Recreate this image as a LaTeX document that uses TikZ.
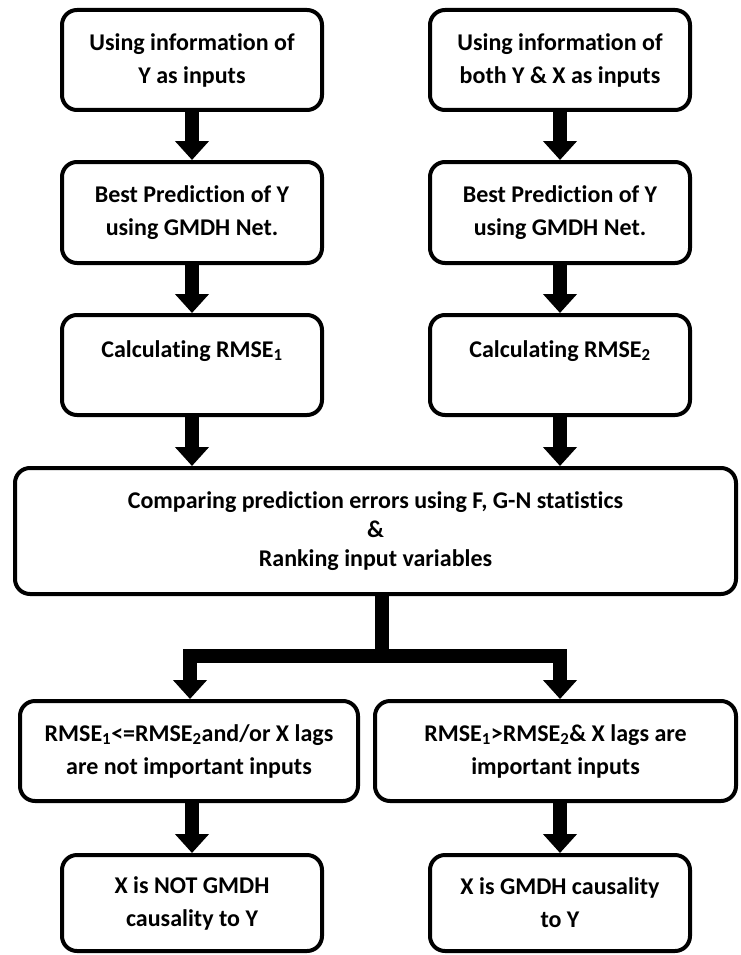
\documentclass[tikz,border=0pt]{standalone}
\usepackage{fontspec}
\setmainfont{Carlito}[Ligatures=NoCommon]
\usepackage{tikz}
\usetikzlibrary{arrows.meta,positioning}

\tikzset{
    stepbox/.style={
        draw,
        line width=4pt,
        rounded corners=15pt,
        fill=white,
        align=center,
        inner sep=4pt,
        font=\fontsize{24}{33}\selectfont\bfseries
    },
    flowarrow/.style={
        line width=14pt,
        -{Triangle[width=33pt,length=19pt]}
    },
    flowbar/.style={
        line width=14pt
    }
}

\begin{document}
\begin{tikzpicture}[x=1pt,y=-1pt]
                \useasboundingbox (0,0) rectangle (740,955);

                \node[stepbox, minimum width=260pt, minimum height=100pt]
                    (inY) at (192,60) {Using information of\\Y as inputs};
                \node[stepbox, minimum width=260pt, minimum height=101pt]
                    (predY) at (192,212.5) {Best Prediction of Y\\using GMDH Net.};
                \node[stepbox, minimum width=260pt, minimum height=100pt,
                    text height=36pt, text depth=52pt, inner ysep=6pt]
                    (rmseA) at (192,365) {Calculating RMSE\textsubscript{1}};

                \node[stepbox, minimum width=260pt, minimum height=100pt]
                    (inYX) at (560,60) {Using information of\\both Y \& X as inputs};
                \node[stepbox, minimum width=260pt, minimum height=101pt]
                    (predYX) at (560,212.5) {Best Prediction of Y\\using GMDH Net.};
                \node[stepbox, minimum width=260pt, minimum height=100pt,
                    text height=36pt, text depth=52pt, inner ysep=6pt]
                    (rmseB) at (560,365) {Calculating RMSE\textsubscript{2}};

                \node[stepbox, minimum width=721pt, minimum height=126pt,
                    font=\fontsize{24}{29}\selectfont\bfseries]
                    (compare) at (375.5,531) {Comparing prediction errors using F, G-N statistics\\\&\\Ranking input variables};

                \node[stepbox, minimum width=338pt, minimum height=100pt]
                    (condA) at (189,751) {RMSE\textsubscript{1}<=RMSE\textsubscript{2}and/or X lags\\are not important inputs};
                \node[stepbox, minimum width=361pt, minimum height=100pt]
                    (condB) at (555.5,751) {RMSE\textsubscript{1}>RMSE\textsubscript{2}\& X lags are\\important inputs};

                \node[stepbox, minimum width=260pt, minimum height=96pt]
                    (notCause) at (192,903) {X is NOT GMDH\\causality to Y};
                \node[stepbox, minimum width=260pt, minimum height=96pt]
                    (isCause) at (560,903) {X is GMDH causality\\to Y};

                \coordinate (fork) at (382,656);

                \draw[flowarrow] (inY) to (predY);
                \draw[flowarrow] (predY) to (rmseA);
                \draw[flowarrow] (rmseA) to (rmseA |- compare.north);

                \draw[flowarrow] (inYX) to (predYX);
                \draw[flowarrow] (predYX) to (rmseB);
                \draw[flowarrow] (rmseB) to (rmseB |- compare.north);

                \draw[flowbar] (compare.south -| fork) to (fork);
                \draw[flowarrow] (fork) -| ([xshift=1pt]condA.north);
                \draw[flowarrow] (fork) -| ([xshift=4.5pt]condB.north);

                \draw[flowarrow] (notCause.north |- condA.south) to (notCause);
                \draw[flowarrow] (isCause.north |- condB.south) to (isCause);

\end{tikzpicture}
\end{document}
